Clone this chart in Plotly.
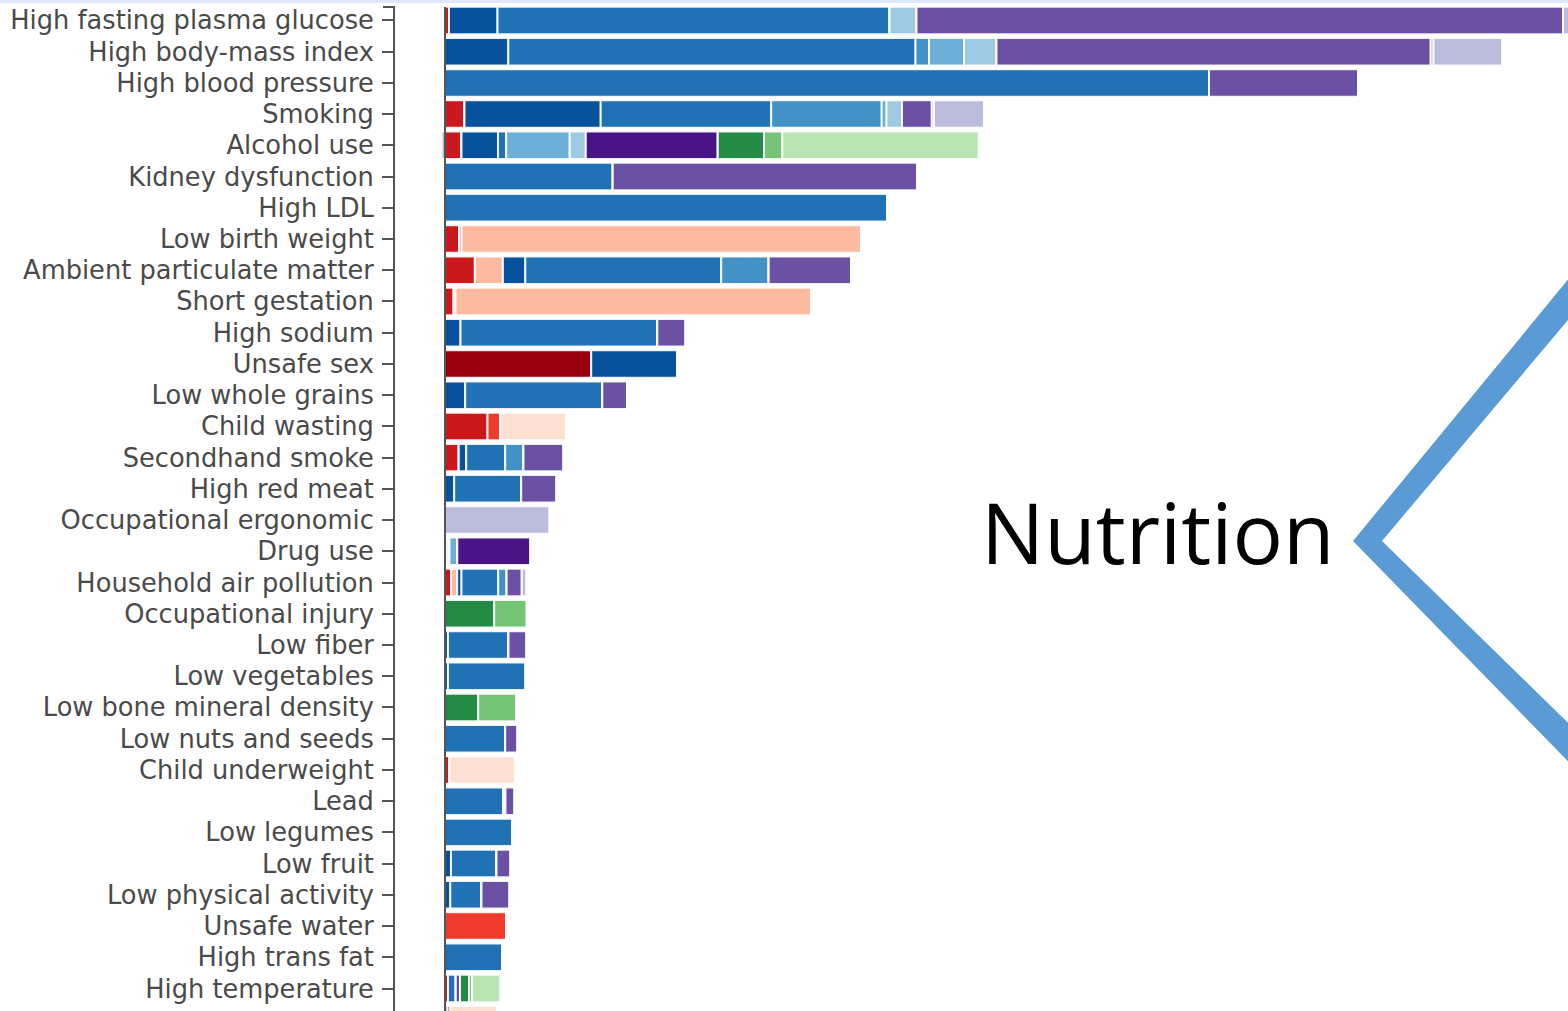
import plotly.graph_objects as go

risks = [
    "High fasting plasma glucose", "High body-mass index", "High blood pressure", "Smoking",
    "Alcohol use", "Kidney dysfunction", "High LDL", "Low birth weight",
    "Ambient particulate matter", "Short gestation", "High sodium", "Unsafe sex",
    "Low whole grains", "Child wasting", "Secondhand smoke", "High red meat",
    "Occupational ergonomic", "Drug use", "Household air pollution", "Occupational injury",
    "Low fiber", "Low vegetables", "Low bone mineral density", "Low nuts and seeds",
    "Child underweight", "Lead", "Low legumes", "Low fruit",
    "Low physical activity", "Unsafe water", "High trans fat", "High temperature",
    "Zinc deficiency",
]

# attributable burden per cause group (one value per risk, same order as `risks`)
hiv_sti = [0, 0, 0, 0, 0, 0, 0, 0, 0, 0, 0, 14.62, 0, 0, 0, 0, 0, 0.25, 0, 0, 0, 0, 0, 0, 0, 0, 0, 0, 0, 0, 0, 0, 0]
resp_inf = [0.4, 0, 0, 1.95, 1.65, 0, 0, 1.4, 2.99, 0.85, 0, 0, 0, 4.25, 1.38, 0, 0, 0, 0.62, 0, 0, 0, 0, 0, 0.43, 0, 0, 0, 0, 0, 0, 0.3, 0.25]
enteric = [0, 0, 0, 0, 0, 0, 0, 0.25, 0, 0.2, 0, 0, 0, 1.28, 0, 0, 0, 0, 0, 0, 0, 0, 0, 0, 0, 0, 0, 0, 0, 6.13, 0, 0, 0.3]
neonatal = [0, 0, 0, 0, 0, 0, 0, 39.95, 2.8, 35.55, 0, 0, 0, 0, 0, 0, 0, 0, 0.6, 0, 0, 0, 0, 0, 0, 0, 0, 0, 0, 0, 0, 0, 0]
nutritional = [0, 0, 0, 0, 0, 0, 0, 0, 0, 0, 0, 0, 0, 6.57, 0, 0, 0, 0, 0, 0, 0, 0, 0, 0, 6.6, 0, 0, 0, 0, 0, 0, 0, 4.7]
neoplasms = [4.85, 6.33, 0, 13.62, 3.65, 0, 0, 0, 2.24, 0, 1.55, 8.58, 2.02, 0, 0.74, 0.92, 0, 0.2, 0.43, 0, 0.3, 0.3, 0, 0, 0, 0, 0, 0.6, 0.53, 0, 0, 0, 0]
cardiovascular = [39.2, 40.72, 76.4, 17.05, 0.82, 16.78, 44.2, 0, 19.59, 0, 19.68, 0, 13.71, 0, 3.9, 6.7, 0, 0, 3.67, 0, 6.05, 7.78, 0, 6.02, 0, 5.82, 6.75, 4.55, 3.12, 0, 5.77, 0.78, 0]
chronic_resp = [0, 1.35, 0, 11.05, 0, 0, 0, 0, 4.75, 0, 0, 0, 0, 0, 1.83, 0, 0, 0, 0.85, 0, 0, 0, 0, 0, 0, 0, 0, 0, 0, 0, 0, 0, 0]
digestive = [0, 3.5, 0, 0.48, 6.35, 0, 0, 0, 0, 0, 0, 0, 0, 0, 0, 0, 0, 0.78, 0, 0, 0, 0, 0, 0, 0, 0, 0, 0, 0, 0, 0, 0, 0]
neurological = [2.7, 3.25, 0, 1.55, 1.61, 0, 0, 0, 0, 0, 0, 0, 0, 0, 0, 0, 0, 0, 0, 0, 0, 0, 0, 0, 0, 0.23, 0, 0, 0, 0, 0, 0, 0]
substance = [0, 0, 0, 0, 13.2, 0, 0, 0, 0, 0, 0, 0, 0, 0, 0, 0, 0, 7.34, 0, 0, 0, 0, 0, 0, 0, 0, 0, 0, 0, 0, 0, 0, 0]
diabetes_ckd = [64.65, 43.42, 14.95, 2.98, 0, 30.47, 0, 0, 8.26, 0, 2.84, 0, 2.47, 0, 4.02, 3.55, 0, 0, 1.51, 0, 1.82, 0, 0, 1.25, 0, 0.92, 0, 1.42, 2.82, 0, 0, 0.42, 0]
other_ncd = [0, 0.28, 0, 0.22, 0, 0, 0, 0, 0, 0, 0, 0, 0, 0, 0, 0, 0, 0, 0, 0, 0, 0, 0, 0, 0, 0, 0, 0, 0, 0, 0, 0, 0]
musculoskeletal = [4.0, 6.9, 0, 5.0, -0.35, 0, 0, 0, 0, 0, 0, 0, 0, 0, 0, 0, 10.47, 0, 0.49, 0, 0, 0, 0, 0, 0, 0, 0, 0, 0, 0, 0, 0, 0]
transport = [0, 0, 0, 0, 4.62, 0, 0, 0, 0, 0, 0, 0, 0, 0, 0, 0, 0, 0, 0, 4.92, 0, 0, 3.32, 0, 0, 0, 0, 0, 0, 0, 0, 0.9, 0]
unintentional = [0, 0, 0, 0, 1.83, 0, 0, 0, 0, 0, 0, 0, 0, 0, 0, 0, 0, 0, 0, 3.25, 0, 0, 3.81, 0, 0, 0, 0, 0, 0, 0, 0, 0.3, 0]
self_harm = [0, 0, 0, 0, 19.64, 0, 0, 0, 0, 0, 0, 0, 0, 0, 0, 0, 0, 0, 0, 0, 0, 0, 0, 0, 0, 0, 0, 0, 0, 0, 0, 2.83, 0]

series = [
    ("HIV/AIDS and STIs", hiv_sti, "#99000d"),
    ("Respiratory infections and TB", resp_inf, "#cb181d"),
    ("Enteric infections", enteric, "#ef3b2c"),
    ("Neonatal disorders", neonatal, "#fcbba1"),
    ("Nutritional deficiencies", nutritional, "#fee0d2"),
    ("Neoplasms", neoplasms, "#08519c"),
    ("Cardiovascular diseases", cardiovascular, "#2171b5"),
    ("Chronic respiratory diseases", chronic_resp, "#4292c6"),
    ("Digestive diseases", digestive, "#6baed6"),
    ("Neurological disorders", neurological, "#9ecae1"),
    ("Substance use disorders", substance, "#4a1486"),
    ("Diabetes and kidney diseases", diabetes_ckd, "#6a51a3"),
    ("Other non-communicable diseases", other_ncd, "#9e9ac8"),
    ("Musculoskeletal disorders", musculoskeletal, "#bcbddc"),
    ("Transport injuries", transport, "#238b45"),
    ("Unintentional injuries", unintentional, "#74c476"),
    ("Self-harm and violence", self_harm, "#bae4b3"),
]

annotation_text = "Nutrition"

W, H = 1568, 1011
ML, MT = 395, 7
PW, PH = W - ML, H - MT


def px(x):
    return (x - ML) / PW


def py(y):
    return (H - y) / PH


fig = go.Figure()
for name, vals, color in series:
    fig.add_trace(go.Bar(
        y=risks, x=vals, name=name, orientation="h",
        marker=dict(color=color, line=dict(color="rgba(255,255,255,0.9)", width=2)),
    ))

chev = [(1353, 541), (1600, 240.7), (1600, 282), (1382, 541), (1600, 754), (1600, 794)]
path = "M " + " L ".join(f"{px(a):.5f},{py(b):.5f}" for a, b in chev) + " Z"

shapes = [
    dict(type="line", xref="x", yref="paper", x0=0, x1=0, y0=0, y1=1,
         line=dict(color="#555555", width=2), layer="above"),
    dict(type="line", xref="paper", yref="paper", x0=px(383), x1=px(395), y0=1, y1=1,
         line=dict(color="#555555", width=2)),
    dict(type="rect", xref="paper", yref="paper", x0=px(0), x1=1, y0=py(3), y1=py(0),
         fillcolor="#dde9fb", line=dict(width=0)),
    dict(type="path", xref="paper", yref="paper", path=path,
         fillcolor="#5b9bd5", line=dict(width=0), layer="above"),
]

fig.update_layout(
    width=W, height=H,
    margin=dict(l=ML, r=0, t=MT, b=0, pad=0),
    barmode="relative", bargap=0.12,
    showlegend=False,
    paper_bgcolor="white", plot_bgcolor="white",
    shapes=shapes,
    annotations=[dict(
        text=annotation_text, xref="paper", yref="paper", x=px(979), y=py(531),
        xanchor="left", yanchor="middle", showarrow=False,
        font=dict(family="Open Sans", size=84, color="black"),
    )],
    xaxis=dict(range=[-5, 112.3], showgrid=False, zeroline=False, showline=False,
               showticklabels=False, ticks=""),
    yaxis=dict(type="category", categoryorder="array", categoryarray=risks,
               range=[31.72, -0.43], showgrid=False, zeroline=False,
               showline=True, linecolor="#555555", linewidth=2,
               ticks="outside", ticklen=11, tickwidth=2, tickcolor="#555555",
               ticklabelstandoff=3,
               tickfont=dict(family="DejaVu Sans", size=25.7, color="#4a4a4a")),
)

fig.write_html(
    "out.html",
    config={"displayModeBar": False},
    post_script="document.body.style.margin='0';document.body.style.overflow='hidden';",
)
